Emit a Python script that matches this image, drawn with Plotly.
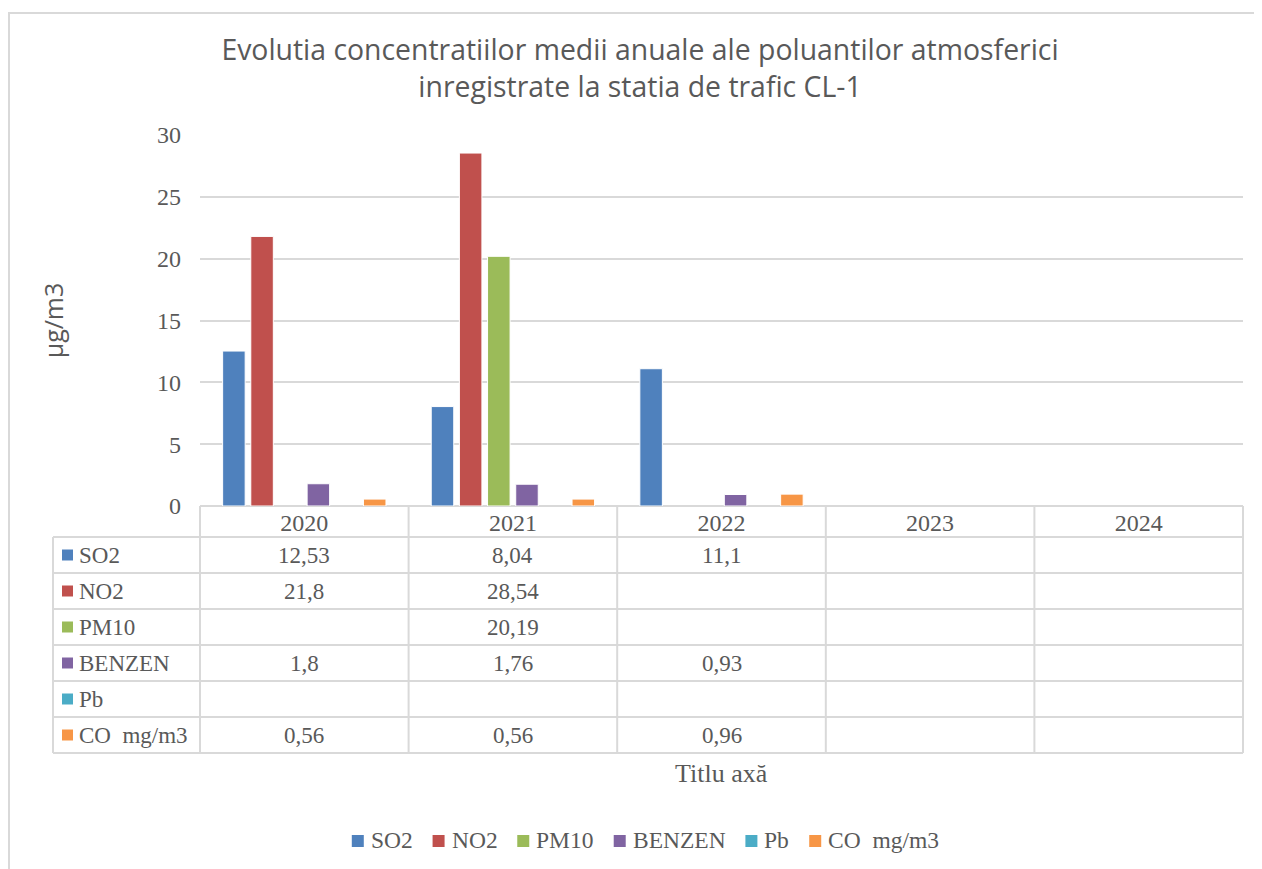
import plotly.graph_objects as go

years = ['2020', '2021', '2022', '2023', '2024']
so2 = [12.53, 8.04, 11.1, None, None]
no2 = [21.8, 28.54, None, None, None]
pm10 = [None, 20.19, None, None, None]
benzen = [1.8, 1.76, 0.93, None, None]
pb = [None, None, None, None, None]
co = [0.56, 0.56, 0.96, None, None]

series_names = ['SO2', 'NO2', 'PM10', 'BENZEN', 'Pb', 'CO  mg/m3']
series_values = [so2, no2, pm10, benzen, pb, co]
colors = ['#4F81BD', '#C0504D', '#9BBB59', '#8064A2', '#4BACC6', '#F79646']

# page is 1262x869, the figure sits 8px in (body margin)
PAGE_W, PAGE_H = 1262, 869
OFF = 8
W, H = PAGE_W - OFF, PAGE_H - OFF
L, R, T, B = 200, 1243, 135, 506   # plot area in page pixels
GRID = '#D9D9D9'
TXT = '#595959'
SERIF = 'Liberation Serif, Times New Roman, serif'
SANS = 'Open Sans, Noto Sans, sans-serif'
TABLE_FONT = 23

# rough Times advance widths (em) to lay out the legend like Excel does
CHAR_W = {'S': .556, 'O': .722, '2': .5, 'N': .722, 'P': .556, 'M': .889, '1': .5,
          '0': .5, 'B': .667, 'E': .611, 'Z': .611, 'b': .5, 'C': .667, ' ': .25,
          'm': .778, 'g': .5, '/': .278, '3': .5}


def text_w(s, size):
    return sum(CHAR_W.get(c, .5) for c in s) * size


def px(x):
    return (x - L) / (R - L)


def py(y):
    return (B - y) / (B - T)


fig = go.Figure()

for name, vals, col in zip(series_names, series_values, colors):
    fig.add_trace(go.Bar(
        x=years, y=vals, name=name, showlegend=False,
        marker=dict(color=col, line=dict(color='white', width=1)),
    ))

# data table below the plot
header_h = 31
row_h = 36
label_left = 53
rows_top = B + header_h
table_bottom = rows_top + row_h * len(series_names)

shapes = []
for k in range(len(series_names) + 1):
    y = rows_top + k * row_h
    shapes.append(dict(type='line', xref='paper', yref='paper',
                       x0=px(label_left), x1=1, y0=py(y), y1=py(y),
                       line=dict(color=GRID, width=2)))
shapes.append(dict(type='line', xref='paper', yref='paper',
                   x0=px(label_left), x1=px(label_left), y0=py(rows_top), y1=py(table_bottom),
                   line=dict(color=GRID, width=2)))
for k in range(len(years) + 1):
    xk = k / len(years)
    shapes.append(dict(type='line', xref='paper', yref='paper',
                       x0=xk, x1=xk, y0=0, y1=py(table_bottom),
                       line=dict(color=GRID, width=2)))

# outer chart frame
shapes.append(dict(type='rect', xref='paper', yref='paper',
                   x0=px(9), x1=px(PAGE_W + 20), y0=py(13), y1=py(PAGE_H + 20),
                   line=dict(color=GRID, width=2), fillcolor='rgba(0,0,0,0)', layer='below'))

annotations = []
for r, (name, vals, col) in enumerate(zip(series_names, series_values, colors)):
    yc = rows_top + r * row_h + row_h / 2
    shapes.append(dict(type='rect', xref='paper', yref='paper',
                       x0=px(62), x1=px(73), y0=py(yc - 5.5), y1=py(yc + 5.5),
                       line=dict(width=0), fillcolor=col))
    annotations.append(dict(xref='paper', yref='paper', x=px(77), y=py(yc),
                            xanchor='left', yanchor='middle', showarrow=False,
                            text=name, font=dict(family=SERIF, size=TABLE_FONT, color=TXT)))
    for i, v in enumerate(vals):
        if v is None:
            continue
        annotations.append(dict(xref='x', yref='paper', x=i, y=py(yc),
                                xanchor='center', yanchor='middle', showarrow=False,
                                text=str(v).replace('.', ','),
                                font=dict(family=SERIF, size=TABLE_FONT, color=TXT)))

annotations.append(dict(xref='paper', yref='paper', x=0.5, y=py(773),
                        xanchor='center', yanchor='middle', showarrow=False,
                        text='Titlu axă', font=dict(family=SERIF, size=26, color=TXT)))

# legend at the bottom, Excel style: small square, label, wide gap
LEG_FONT = 23.5
sq, sq_gap, item_gap = 12, 5, 22
widths = [sq + sq_gap + text_w(n, LEG_FONT) for n in series_names]
total = sum(widths) + item_gap * (len(widths) - 1)
leg_y = 840
x_cur = 644.5 - total / 2
for name, col, w in zip(series_names, colors, widths):
    shapes.append(dict(type='rect', xref='paper', yref='paper',
                       x0=px(x_cur), x1=px(x_cur + sq), y0=py(leg_y - sq / 2 + 1), y1=py(leg_y + sq / 2 + 1),
                       line=dict(width=0), fillcolor=col))
    annotations.append(dict(xref='paper', yref='paper', x=px(x_cur + sq + sq_gap), y=py(leg_y),
                            xanchor='left', yanchor='middle', showarrow=False,
                            text=name, font=dict(family=SERIF, size=LEG_FONT, color=TXT)))
    x_cur += w + item_gap

fig.update_layout(
    width=W, height=H,
    margin=dict(l=L - OFF, r=PAGE_W - R, t=T - OFF, b=PAGE_H - B),
    paper_bgcolor='white', plot_bgcolor='white',
    showlegend=False,
    title=dict(
        text='Evolutia concentratiilor medii anuale ale poluantilor atmosferici<br>inregistrate la statia de trafic CL-1',
        xref='container', x=(640 - OFF) / W, xanchor='center',
        yref='container', y=1 - (60 - OFF) / H, yanchor='middle',
        font=dict(family=SANS, size=28.4, color=TXT),
    ),
    barmode='group', bargap=0.19, bargroupgap=0.2,
    xaxis=dict(
        type='category',
        showgrid=False, showline=False, ticks='', zeroline=False,
        tickfont=dict(family=SERIF, size=24, color=TXT),
        range=[-0.5, len(years) - 0.5],
    ),
    yaxis=dict(
        range=[0, 30], dtick=5, showgrid=True, gridcolor=GRID, gridwidth=2,
        zeroline=True, zerolinecolor=GRID, zerolinewidth=2,
        showline=False, ticks='', ticklabelstandoff=18,
        tickfont=dict(family=SERIF, size=24, color=TXT),
        title=dict(text='µg/m3', font=dict(family=SANS, size=25, color=TXT), standoff=86),
    ),
    shapes=shapes, annotations=annotations,
)

fig.write_html('out.html')
